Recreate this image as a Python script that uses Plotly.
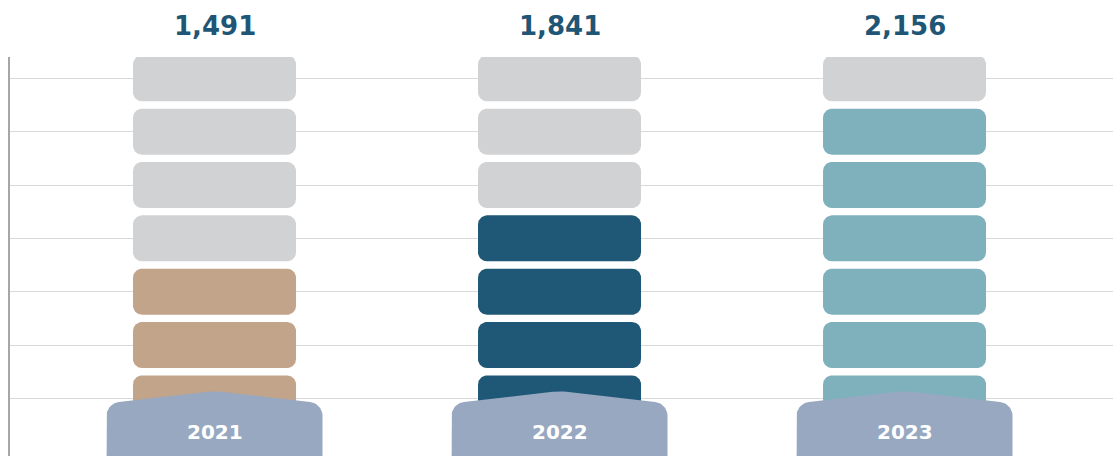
import numpy as np
import plotly.graph_objects as go

# ---- data ----
years = ["2021", "2022", "2023"]
totals = [1491, 1841, 2156]
filled_units = [3, 4, 6]
total_units = 7
fill_colors = ["#c2a48b", "#1e5876", "#7fb1bd"]
empty_color = "#d1d2d4"

# ---- layout constants ----
W, H = 1113, 456
ML, MT = 10, 57
XR = [-0.5928, 2.6043]
YR = [-1.08, 6.4]
pw, ph = W - ML, H - MT
sx = pw / (XR[1] - XR[0])
sy = ph / (YR[1] - YR[0])


def to_px(x, y):
    return ML + (x - XR[0]) * sx, MT + (YR[1] - y) * sy


def to_data(px, py):
    return XR[0] + (px - ML) / sx, YR[1] - (py - MT) / sy


def rounded_poly(verts, radii, n=14):
    """verts in pixel coords; corners filleted with circular arcs; returns data coords"""
    pts = []
    m = len(verts)
    for i in range(m):
        p0 = np.array(verts[i - 1], float)
        p1 = np.array(verts[i], float)
        p2 = np.array(verts[(i + 1) % m], float)
        r = radii[i]
        if r <= 0:
            pts.append(p1)
            continue
        d0 = (p0 - p1) / np.linalg.norm(p0 - p1)
        d2 = (p2 - p1) / np.linalg.norm(p2 - p1)
        theta = np.arccos(np.clip(np.dot(d0, d2), -1, 1))
        t = r / np.tan(theta / 2)
        a = p1 + d0 * t
        b = p1 + d2 * t
        bis = d0 + d2
        bis /= np.linalg.norm(bis)
        c = p1 + bis * (r / np.sin(theta / 2))
        a0 = np.arctan2(a[1] - c[1], a[0] - c[0])
        a1 = np.arctan2(b[1] - c[1], b[0] - c[0])
        da = (a1 - a0 + np.pi) % (2 * np.pi) - np.pi
        for s in np.linspace(0, 1, n):
            ang = a0 + da * s
            pts.append(c + r * np.array([np.cos(ang), np.sin(ang)]))
    pts.append(pts[0])
    xs, ys = zip(*[to_data(p[0], p[1]) for p in pts])
    return list(xs), list(ys)


fig = go.Figure()

BOX_W, BOX_H, BOX_R = 163, 46, 9
for ci, (yr, nf, col) in enumerate(zip(years, filled_units, fill_colors)):
    for row in range(total_units):
        cx, cy = to_px(ci, row)
        hw, hh = BOX_W / 2, BOX_H / 2
        verts = [(cx - hw, cy - hh), (cx + hw, cy - hh), (cx + hw, cy + hh), (cx - hw, cy + hh)]
        xs, ys = rounded_poly(verts, [BOX_R] * 4)
        color = col if row < nf else empty_color
        fig.add_trace(go.Scatter(x=xs, y=ys, mode="lines", fill="toself",
                                 fillcolor=color, line=dict(width=0, color=color),
                                 hoverinfo="skip", showlegend=False))

# year label tabs
LABEL_PEAK = 0.14
for ci, yr in enumerate(years):
    cx, py = to_px(ci, LABEL_PEAK)
    verts = [(cx - 108, py + 90), (cx - 108, py + 12.5), (cx, py), (cx + 108, py + 12.5), (cx + 108, py + 90)]
    xs, ys = rounded_poly(verts, [0, 14, 60, 14, 0])
    fig.add_trace(go.Scatter(x=xs, y=ys, mode="lines", fill="toself",
                             fillcolor="#97a8c0", line=dict(width=0, color="#97a8c0"),
                             hoverinfo="skip", showlegend=False))

font_family = "DejaVu Sans"
for ci, (yr, tot) in enumerate(zip(years, totals)):
    fig.add_annotation(x=ci, y=1 + (MT - 26.5) / ph, yref="paper", xref="x",
                       text=f"<b>{tot:,}</b>", showarrow=False,
                       font=dict(family=font_family, size=26, color="#1f5676"),
                       xanchor="center", yanchor="middle")
    fig.add_annotation(x=ci, y=to_data(0, 431.5)[1], xref="x", yref="y",
                       text=f"<b>{yr}</b>", showarrow=False,
                       font=dict(family=font_family, size=20, color="#ffffff"),
                       xanchor="center", yanchor="middle")

fig.update_layout(
    width=W, height=H,
    margin=dict(l=ML, r=0, t=MT, b=0),
    plot_bgcolor="#ffffff", paper_bgcolor="#ffffff",
    xaxis=dict(range=XR, showgrid=False, zeroline=False, showticklabels=False,
               showline=False, fixedrange=True),
    yaxis=dict(range=YR, tickvals=list(range(total_units)), showticklabels=False,
               showgrid=True, gridcolor="#d9d9d9", gridwidth=1, zeroline=False,
               showline=True, linecolor="#a6a6a6", linewidth=2, ticks="",
               fixedrange=True),
)

fig.write_html("out.html", config={"displayModeBar": False})
